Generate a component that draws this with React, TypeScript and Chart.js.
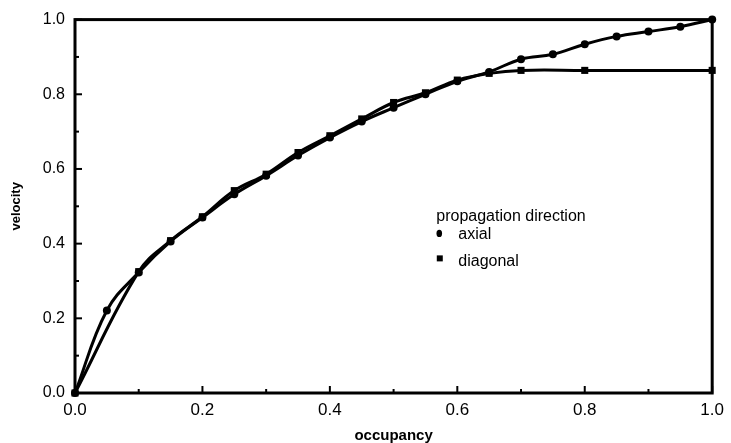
import { useEffect, useRef } from "react";
import { Chart, registerables } from "chart.js";

Chart.register(...registerables);

// ---- data ----
const axialX = [0, 0.05, 0.1, 0.15, 0.2, 0.25, 0.3, 0.35, 0.4, 0.45, 0.5, 0.55, 0.6, 0.65, 0.7, 0.75, 0.8, 0.85, 0.9, 0.95, 1.0];
const axialY = [0, 0.221, 0.323, 0.406, 0.47, 0.532, 0.582, 0.636, 0.684, 0.727, 0.764, 0.8, 0.835, 0.86, 0.894, 0.907, 0.934, 0.955, 0.968, 0.981, 1.0];
const diagonalX = [0, 0.1, 0.15, 0.2, 0.25, 0.3, 0.35, 0.4, 0.45, 0.5, 0.55, 0.6, 0.65, 0.7, 0.8, 1.0];
const diagonalY = [0, 0.325, 0.408, 0.472, 0.542, 0.586, 0.644, 0.689, 0.734, 0.778, 0.804, 0.838, 0.856, 0.864, 0.864, 0.864];

const axisTickValues = [0, 0.1, 0.2, 0.3, 0.4, 0.5, 0.6, 0.7, 0.8, 0.9, 1.0];
const seriesNames = ["axial", "diagonal"];
const legendTitle = "propagation direction";
const xTitle = "occupancy";
const yTitle = "velocity";

const FONT = "'Liberation Sans', Arial, Helvetica, sans-serif";

const framePlugin = {
  id: "frameAndLegend",
  afterDraw(chart: any) {
    const { ctx, chartArea: a, scales } = chart;
    ctx.save();
    ctx.strokeStyle = "#000";
    ctx.fillStyle = "#000";
    ctx.lineWidth = 3;
    ctx.strokeRect(a.left, a.top, a.right - a.left, a.bottom - a.top);

    // inner ticks
    ctx.lineWidth = 2;
    axisTickValues.forEach((v, i) => {
      const len = i % 2 === 0 ? 7 : 4;
      const px = scales.x.getPixelForValue(v);
      ctx.beginPath();
      ctx.moveTo(px, a.bottom);
      ctx.lineTo(px, a.bottom - len);
      ctx.stroke();
      const py = scales.y.getPixelForValue(v);
      ctx.beginPath();
      ctx.moveTo(a.left, py);
      ctx.lineTo(a.left + len, py);
      ctx.stroke();
    });

    // legend inside plot
    const lx = scales.x.getPixelForValue(0.567);
    const ly = scales.y.getPixelForValue(0.473);
    ctx.textBaseline = "middle";
    ctx.textAlign = "left";
    ctx.font = `16px ${FONT}`;
    ctx.fillText(legendTitle, lx, ly);
    // axial bullet
    ctx.beginPath();
    ctx.ellipse(lx + 3, ly + 17, 2.8, 3.6, 0, 0, Math.PI * 2);
    ctx.fill();
    ctx.fillText(seriesNames[0], lx + 22, ly + 18);
    // diagonal square
    ctx.fillRect(lx + 0.5, ly + 39, 6, 6);
    ctx.fillText(seriesNames[1], lx + 22, ly + 45);
    ctx.restore();
  },
};

export default function App() {
  const canvasRef = useRef<HTMLCanvasElement | null>(null);

  useEffect(() => {
    if (!canvasRef.current) return;
    const axialData = axialX.map((x, i) => ({ x, y: axialY[i] }));
    const diagonalData = diagonalX.map((x, i) => ({ x, y: diagonalY[i] }));

    const chart = new Chart(canvasRef.current, {
      type: "line",
      data: {
        datasets: [
          {
            label: seriesNames[0],
            data: axialData,
            borderColor: "#000",
            backgroundColor: "#000",
            borderWidth: 3,
            pointStyle: "circle",
            pointRadius: 4,
            pointBackgroundColor: "#000",
            pointBorderWidth: 0,
            tension: 0.4,
            clip: false,
          },
          {
            label: seriesNames[1],
            data: diagonalData,
            borderColor: "#000",
            backgroundColor: "#000",
            borderWidth: 3,
            pointStyle: "rect",
            pointRadius: 5,
            pointBackgroundColor: "#000",
            pointBorderWidth: 0,
            tension: 0.4,
            clip: false,
          },
        ],
      },
      options: {
        animation: false,
        responsive: true,
        maintainAspectRatio: false,
        parsing: false,
        layout: { padding: { top: 17, right: 16, left: 0, bottom: 0 } },
        plugins: {
          legend: { display: false },
          tooltip: { enabled: false },
        },
        scales: {
          x: {
            type: "linear",
            min: 0,
            max: 1,
            grid: { display: false, drawTicks: false },
            border: { display: false },
            ticks: {
              stepSize: 0.2,
              padding: 7,
              color: "#000",
              font: { family: FONT, size: 17 },
              callback: (v: any) => Number(v).toFixed(1),
              maxRotation: 0,
            },
            title: {
              display: true,
              text: xTitle,
              color: "#000",
              font: { family: FONT, size: 15, weight: "bold", lineHeight: 1 },
              padding: 0,
            },
            afterFit: (s: any) => {
              s.height = 50;
            },
          },
          y: {
            type: "linear",
            min: 0,
            max: 1,
            grid: { display: false, drawTicks: false },
            border: { display: false },
            ticks: {
              stepSize: 0.2,
              padding: 10,
              color: "#000",
              font: { family: FONT, size: 16 },
              callback: (v: any) => Number(v).toFixed(1),
            },
            title: {
              display: true,
              text: yTitle,
              color: "#000",
              font: { family: FONT, size: 13, weight: "bold" },
              padding: { top: 9, bottom: 0 },
            },
            afterFit: (s: any) => {
              s.width = 75;
            },
          },
        },
      },
      plugins: [framePlugin],
    });
    return () => chart.destroy();
  }, []);

  return (
    <div style={{ position: "fixed", left: 0, top: 0, width: 731, height: 443, background: "#fff" }}>
      <canvas ref={canvasRef} />
    </div>
  );
}
